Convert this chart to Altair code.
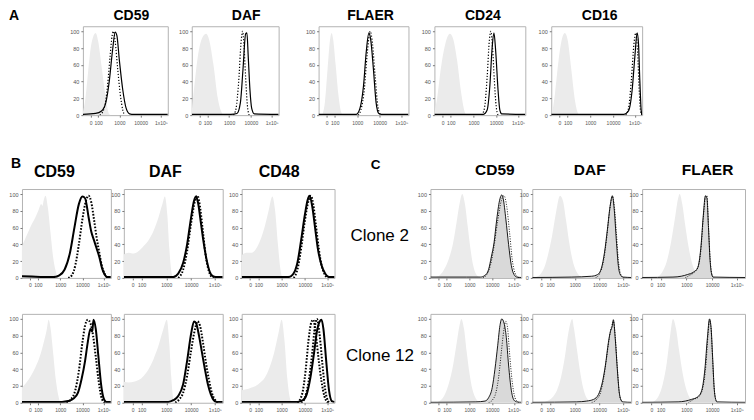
import altair as alt
import pandas as pd

FONT = "Liberation Sans"
# x axis: display channel (0-1000) with biexponential tick labels
TICK_POS = [90, 180, 430, 680, 920]
TICK_TXT = ["0", "100", "1000", "10000", "1x10⁵"]
Y_TICKS = [0, 20, 40, 60, 80, 100]

# ---------------- Panel A ----------------
A_CD59_ISO = [[0,3],[30,20],[60,50],[100,85],[150,98],[180,88],[220,58],[260,27],[290,8],[310,1],[330,0]]
A_CD59_SOLID = [[0,1],[150,2],[220,5],[270,15],[310,40],[350,78],[380,99],[400,95],[430,65],[470,30],[510,8],[550,1.5],[600,0.8],[1000,0.8]]
A_CD59_DOT = [[200,0],[250,8],[290,35],[320,70],[345,95],[360,100],[380,88],[410,55],[440,25],[470,6],[490,0]]

A_DAF_ISO = [[0,5],[30,35],[70,70],[120,92],[167,97],[200,90],[250,60],[300,20],[350,2],[370,0]]
A_DAF_SOLID = [[0,1],[450,1],[520,2],[560,15],[590,55],[620,97],[635,98],[650,70],[670,30],[690,8],[720,1.5],[1000,0.8]]
A_DAF_DOT = [[480,0],[510,8],[540,40],[570,90],[585,100],[600,85],[620,45],[640,12],[660,0]]

A_FLAER_ISO = [[40,0],[70,15],[100,55],[130,92],[145,98],[160,92],[190,60],[220,25],[250,4],[270,0]]
A_FLAER_SOLID = [[0,1],[420,1],[460,8],[500,35],[530,75],[560,98],[580,90],[610,55],[640,15],[670,2],[700,1],[1000,1]]
A_FLAER_DOT = [[440,0],[470,6],[510,32],[540,72],[575,100],[600,85],[630,45],[660,10],[690,0]]

A_CD24_ISO = [[0,3],[30,20],[70,55],[120,85],[170,97],[200,93],[250,65],[290,30],[330,5],[350,0]]
A_CD24_SOLID = [[0,1],[540,1],[580,6],[610,35],[635,80],[655,98],[675,75],[700,30],[720,6],[740,1.5],[1000,1]]
A_CD24_DOT = [[520,0],[550,8],[580,45],[605,90],[620,100],[640,80],[660,40],[680,10],[700,0]]

A_CD16_ISO = [[10,2],[40,25],[80,65],[120,92],[150,98],[180,90],[220,55],[260,18],[290,3],[310,0]]
A_CD16_SOLID = [[0,1],[800,1],[850,5],[890,30],[920,70],[945,98],[960,85],[975,40],[990,5],[1000,0]]
A_CD16_DOT = [[820,0],[850,8],[880,40],[910,85],[930,98],[950,75],[970,25],[985,3],[1000,0]]

# ---------------- Panel B ----------------
B1_CD59_ISO = [[0,38],[50,50],[100,62],[150,72],[190,82],[215,88],[230,86],[245,93],[265,98],[290,85],[320,55],[350,25],[380,8],[400,1],[420,0]]
B1_CD59_SOLID = [[0,2],[350,1],[420,3],[480,10],[540,30],[590,60],[640,88],[680,97],[710,95],[750,72],[780,55],[810,45],[840,35],[870,25],[900,12],[930,4],[960,1],[1000,1]]
B1_CD59_DOT = [[520,0],[560,3],[600,15],[640,40],[680,70],[720,92],[750,98],[780,90],[810,70],[840,48],[870,30],[900,14],[930,5],[960,0]]

B1_DAF_ISO = [[0,28],[50,30],[100,29],[150,32],[200,38],[250,45],[300,56],[350,72],[390,88],[415,97],[440,75],[460,35],[480,8],[500,0]]
B1_DAF_SOLID = [[0,1],[500,1],[550,5],[600,18],[640,40],[680,72],[710,92],[730,97],[750,90],[780,65],[810,40],[840,20],[870,7],[900,2],[930,1],[1000,1]]
B1_DAF_DOT = [[550,0],[600,10],[640,32],[680,65],[720,92],[745,98],[770,85],[800,55],[830,25],[860,8],[890,1],[910,0]]

B1_CD48_ISO = [[0,27],[50,30],[100,30],[150,34],[200,45],[250,62],[290,80],[330,97],[360,80],[390,40],[420,8],[440,0]]
B1_CD48_SOLID = [[0,1],[500,1],[550,4],[600,18],[640,45],[680,75],[710,93],[730,98],[760,85],[790,60],[820,35],[860,15],[900,5],[940,1],[1000,1]]
B1_CD48_DOT = [[560,0],[600,10],[640,35],[680,68],[720,92],[745,98],[770,88],[800,62],[830,35],[860,15],[890,5],[920,0]]

B2_CD59_ISO = [[0,18],[50,24],[100,32],[150,42],[200,55],[240,70],[280,88],[300,99],[320,90],[350,60],[380,28],[410,8],[430,1],[450,0]]
B2_CD59_SOLID = [[0,1],[450,1],[520,2],[580,5],[630,12],[670,28],[710,50],[740,72],[770,88],[790,85],[805,99],[830,88],[860,55],[890,22],[920,5],[950,1],[1000,1]]
B2_CD59_DOT = [[500,0],[550,4],[600,15],[640,38],[680,72],[710,92],[740,99],[770,95],[800,80],[830,55],[860,28],[890,8],[920,1],[940,0]]

B2_DAF_ISO = [[0,25],[50,24],[100,25],[150,27],[200,32],[250,40],[300,52],[350,68],[400,88],[435,99],[460,70],[480,30],[500,5],[520,0]]
B2_DAF_SOLID = [[0,1],[450,1],[500,3],[550,8],[600,22],[640,50],[680,82],[710,97],[730,95],[760,80],[790,60],[820,40],[850,22],[880,10],[910,3],[940,1],[1000,1]]
B2_DAF_DOT = [[520,0],[560,4],[600,12],[640,32],[680,62],[720,88],[745,97],[770,92],[800,72],[830,48],[860,28],[890,12],[920,4],[950,0]]

B2_CD48_ISO = [[0,15],[50,16],[100,18],[150,20],[200,24],[250,30],[300,42],[350,60],[400,85],[430,99],[460,75],[490,30],[520,5],[540,0]]
B2_CD48_SOLID = [[0,1],[600,1],[660,3],[700,10],[740,30],[780,60],[810,85],[840,97],[860,99],[880,88],[910,50],[940,15],[970,2],[1000,1]]
B2_CD48_DOT = [[600,0],[630,4],[660,15],[690,40],[720,75],[750,96],[770,99],[800,80],[830,50],[860,25],[890,8],[920,1],[940,0]]
B2_CD48_DOT2 = [[640,0],[680,6],[720,25],[760,60],[790,92],[810,100],[840,80],[870,45],[900,15],[930,2],[950,0]]

# ---------------- Panel C ----------------
C1_CD59_ISO = [[0,0],[50,1],[100,3],[150,10],[200,22],[250,42],[290,68],[320,88],[350,100],[380,88],[410,62],[440,35],[470,15],[500,5],[540,1],[580,0]]
C1_CD59_SOLID = [[0,1],[400,1],[550,1],[600,3],[640,10],[670,25],[700,42],[730,70],[760,92],[785,99],[800,95],[830,70],[860,40],[890,15],[920,4],[950,1],[1000,0.5]]
C1_CD59_DOT = [[580,0],[620,4],[660,15],[700,38],[740,68],[780,92],[810,98],[840,85],[870,55],[900,22],[930,6],[960,1],[980,0]]

C1_DAF_ISO = [[0,0],[40,1],[80,4],[120,12],[160,28],[200,50],[240,78],[280,98],[310,92],[340,70],[370,45],[400,25],[430,12],[460,5],[500,1],[540,0]]
C1_DAF_SOLID = [[0,0.5],[400,1],[600,2],[660,4],[700,12],[730,30],[760,58],[790,88],[810,98],[830,80],[850,45],[870,15],[890,4],[920,1],[1000,0.5]]
C1_DAF_DOT = [[640,0],[680,5],[720,20],[750,45],[780,78],[810,97],[830,85],[850,55],[870,22],[890,6],[910,1],[930,0]]

C1_FLAER_ISO = [[120,0],[160,2],[200,8],[240,20],[280,42],[320,72],[350,95],[365,100],[390,88],[420,62],[450,38],[480,20],[510,9],[540,3],[570,1],[600,0]]
C1_FLAER_SOLID = [[0,0.5],[300,1],[380,2],[440,4],[500,7],[540,12],[570,35],[595,75],[615,98],[630,95],[645,60],[660,22],[675,5],[690,1],[1000,0.5]]
C1_FLAER_DOT = [[420,0],[460,3],[500,6],[540,12],[570,32],[595,72],[615,96],[630,98],[645,62],[660,25],[675,6],[690,1],[700,0]]

C2_CD59_ISO = [[50,0],[100,2],[150,8],[200,22],[250,45],[290,72],[320,92],[340,100],[370,88],[400,60],[430,35],[460,17],[490,7],[520,2],[560,0]]
C2_CD59_SOLID = [[0,0.5],[500,1],[600,2],[640,6],[680,18],[710,40],[740,68],[765,92],[785,100],[810,95],[835,78],[860,45],[890,15],[920,3],[950,1],[1000,0.5]]
C2_CD59_DOT = [[640,0],[680,3],[720,12],[750,30],[780,60],[810,88],[830,97],[850,88],[870,60],[900,25],[930,6],[960,1],[980,0]]

C2_DAF_ISO = [[100,0],[150,2],[200,6],[250,15],[290,30],[330,55],[360,80],[390,97],[404,100],[420,90],[450,65],[480,40],[510,20],[540,8],[580,2],[620,0]]
C2_DAF_SOLID = [[0,0.5],[450,1],[550,2],[620,4],[670,10],[710,25],[740,45],[770,72],[790,85],[810,92],[820,99],[840,75],[860,40],[880,12],[900,3],[920,1],[1000,0.5]]
C2_DAF_DOT = [[600,0],[650,4],[690,12],[720,28],[750,52],[780,78],[800,90],[820,97],[840,78],[860,42],[880,12],[900,2],[920,0]]

C2_FLAER_ISO = [[80,0],[120,2],[160,8],[200,22],[240,48],[270,78],[300,100],[330,88],[360,62],[390,38],[420,20],[450,9],[480,3],[520,0]]
C2_FLAER_SOLID = [[0,0.5],[350,1],[420,2],[480,4],[540,7],[580,15],[610,40],[635,78],[655,100],[670,90],[685,55],[700,18],[715,4],[730,1],[1000,0.5]]
C2_FLAER_DOT = [[450,0],[500,4],[550,7],[590,18],[620,45],[640,80],[655,98],[670,88],[685,52],[700,18],[715,4],[730,0]]


def frame(rows):
    return pd.DataFrame(rows, columns=["ch", "pct"])


LABEL_EXPR = " : ".join(f"datum.value == {p} ? '{t}'" for p, t in zip(TICK_POS, TICK_TXT)) + " : ''"


def x_enc():
    return alt.X("ch:Q", scale=alt.Scale(domain=[0, 1000], nice=False, zero=False),
                 axis=alt.Axis(values=TICK_POS, labelExpr=LABEL_EXPR, title=None, grid=False,
                               labelFontSize=5, labelColor="#555", labelOverlap=False,
                               labelFlush=False, tickSize=2, tickColor="#777", domain=False,
                               labelPadding=3, labelFont=FONT))


def y_enc(ytitle=None, tx=0, ty=0):
    kw = dict(values=Y_TICKS, grid=False, labelFontSize=5.5, labelColor="#555", labelOverlap=False,
              labelFlush=False, tickSize=2, tickColor="#777", domain=False, labelPadding=2, labelFont=FONT)
    if ytitle:
        kw.update(title=ytitle, titleAngle=0, titleAlign="right", titleBaseline="middle",
                  titleX=tx, titleY=ty, titleFontSize=17, titleFontWeight="normal",
                  titleFont=FONT, titleColor="black")
    else:
        kw.update(title=None)
    return alt.Y("pct:Q", scale=alt.Scale(domain=[0, 106], nice=False, zero=True), axis=alt.Axis(**kw))


def text_layer(txt, x, y, size):
    return alt.Chart(pd.DataFrame({"t": [txt]})).mark_text(
        font=FONT, fontSize=size, fontWeight="bold", color="black", align="center", baseline="middle"
    ).encode(text="t:N", x=alt.value(x), y=alt.value(y))


def spacer(w, h, letter=None):
    if letter:
        base = text_layer(*letter)
    else:
        base = alt.Chart(pd.DataFrame({"t": [""]})).mark_text().encode(text="t:N")
    return base.properties(width=w, height=h, view=alt.ViewBackground(stroke=None))


def panel(title, iso, solid, dots, w, h, lw, dash, tparams=None, sample=False,
          ytitle=None, tx=0, ty=0):
    def enc(c):
        return c.encode(x=x_enc(), y=y_enc(ytitle, tx, ty))
    layers = [enc(alt.Chart(frame(iso)).mark_area(color="#ebebeb", interpolate="monotone", clip=True))]
    if sample:
        layers.append(enc(alt.Chart(frame(solid)).mark_area(color="#d9d9d9", interpolate="monotone", clip=True)))
    layers.append(enc(alt.Chart(frame(solid)).mark_line(color="black", strokeWidth=lw,
                                                        interpolate="monotone", clip=True)))
    for d in dots:
        layers.append(enc(alt.Chart(frame(d)).mark_line(color="black", strokeWidth=lw, strokeDash=dash,
                                                        interpolate="monotone", clip=True)))
    props = dict(width=w, height=h)
    if title:
        size, dx, off = tparams
        props["title"] = alt.TitleParams(title, fontSize=size, fontWeight="bold", font=FONT, color="black",
                                         anchor="middle", frame="group", dx=dx, offset=off)
    return alt.layer(*layers).properties(**props)


HA = 89
A_LW, A_DASH = 1.2, [1.2, 1.8]
AT = 3
a1 = panel("CD59", A_CD59_ISO, A_CD59_SOLID, [A_CD59_DOT], 85, HA, A_LW, A_DASH, (14, 6, AT))
a2 = panel("DAF", A_DAF_ISO, A_DAF_SOLID, [A_DAF_DOT], 87, HA, A_LW, A_DASH, (14, 11, AT))
a3 = panel("FLAER", A_FLAER_ISO, A_FLAER_SOLID, [A_FLAER_DOT], 90, HA, A_LW, A_DASH, (14, 7, AT))
a4 = panel("CD24", A_CD24_ISO, A_CD24_SOLID, [A_CD24_DOT], 91, HA, A_LW, A_DASH, (14, 3, AT))
a5 = panel("CD16", A_CD16_ISO, A_CD16_SOLID, [A_CD16_DOT], 91, HA, A_LW, A_DASH, (14, 3, AT))

row_a = alt.hconcat(spacer(62, HA, ("A", -7, -10, 14)), a1, spacer(24, HA), a2, spacer(40, HA), a3,
                    spacer(26, HA), a4, spacer(26, HA), a5, spacing=0, bounds="flush")

HB = 89
B_LW, B_DASH = 2.0, [1.6, 1.6]
C_LW, C_DASH = 0.9, [1, 1.5]
BT, CT = 9.5, 11

b1 = panel("CD59", B1_CD59_ISO, B1_CD59_SOLID, [B1_CD59_DOT], 89, HB, B_LW, B_DASH, (16, -12, BT))
b2 = panel("DAF", B1_DAF_ISO, B1_DAF_SOLID, [B1_DAF_DOT], 99, HB, B_LW, B_DASH, (16, -8, BT))
b3 = panel("CD48", B1_CD48_ISO, B1_CD48_SOLID, [B1_CD48_DOT], 93, HB, B_LW, B_DASH, (16, -9, BT))
c1 = panel("CD59", C1_CD59_ISO, C1_CD59_SOLID, [C1_CD59_DOT], 91, HB, C_LW, C_DASH, (15.5, 19, CT), sample=True,
           ytitle="Clone 2", tx=-22, ty=47)
c2 = panel("DAF", C1_DAF_ISO, C1_DAF_SOLID, [C1_DAF_DOT], 99, HB, C_LW, C_DASH, (15.5, 8, CT), sample=True)
c3 = panel("FLAER", C1_FLAER_ISO, C1_FLAER_SOLID, [C1_FLAER_DOT], 103, HB, C_LW, C_DASH, (15.5, 14, CT), sample=True)

b4 = panel(None, B2_CD59_ISO, B2_CD59_SOLID, [B2_CD59_DOT], 89, HB, B_LW, B_DASH)
b5 = panel(None, B2_DAF_ISO, B2_DAF_SOLID, [B2_DAF_DOT], 99, HB, B_LW, B_DASH)
b6 = panel(None, B2_CD48_ISO, B2_CD48_SOLID, [B2_CD48_DOT, B2_CD48_DOT2], 93, HB, B_LW, B_DASH)
c4 = panel(None, C2_CD59_ISO, C2_CD59_SOLID, [C2_CD59_DOT], 91, HB, C_LW, C_DASH, sample=True,
           ytitle="Clone 12", tx=-17, ty=42)
c5 = panel(None, C2_DAF_ISO, C2_DAF_SOLID, [C2_DAF_DOT], 99, HB, C_LW, C_DASH, sample=True)
c6 = panel(None, C2_FLAER_ISO, C2_FLAER_SOLID, [C2_FLAER_DOT], 103, HB, C_LW, C_DASH, sample=True)


def bc_row(p, q, r, s, t, u, letters=False):
    first = spacer(1, HB, ("B", -5, -25, 14)) if letters else spacer(1, HB)
    mid = spacer(96, HB, ("C", 41, -24, 13.5)) if letters else spacer(96, HB)
    return alt.hconcat(first, p, spacer(13, HB), q, spacer(19, HB), r, mid,
                       s, spacer(11, HB), t, spacer(11, HB), u, spacing=0, bounds="flush")


lower = alt.vconcat(bc_row(b1, b2, b3, c1, c2, c3, letters=True), bc_row(b4, b5, b6, c4, c5, c6),
                    spacing=24)

chart = alt.vconcat(row_a, lower, spacing=31).properties(
    padding=0, background="white"
).configure_view(stroke="#b3b3b3", strokeWidth=1).configure_title(font=FONT)

chart.save("out.html", embed_options={"renderer": "svg", "actions": False})
